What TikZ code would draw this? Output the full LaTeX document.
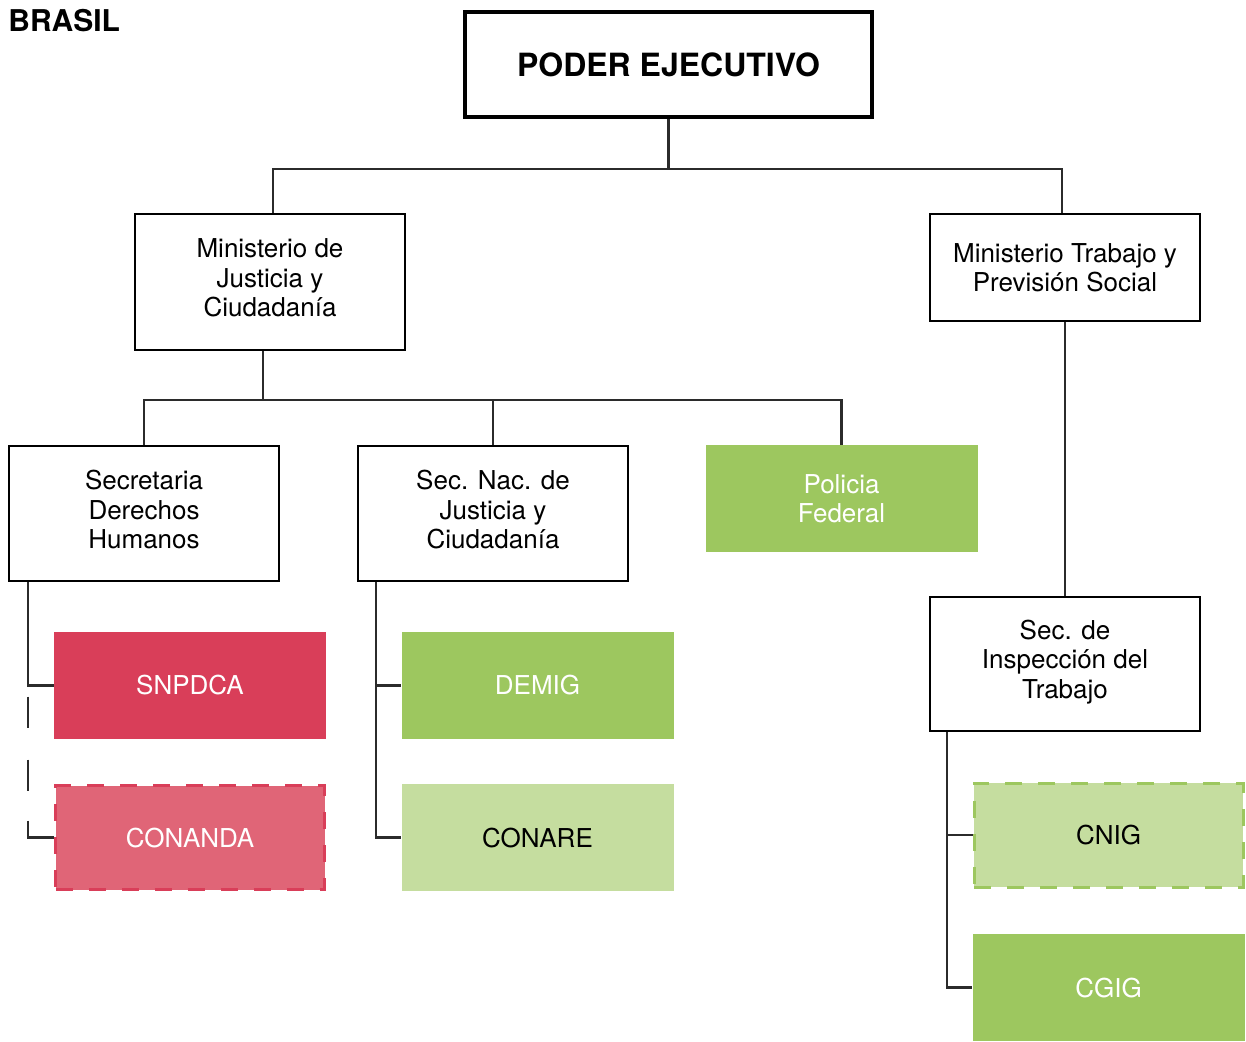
\documentclass[tikz,border=0pt]{standalone}
\usepackage{fontspec}
\setmainfont{TeX Gyre Heros}
\usepackage{tikz}

\definecolor{verde}{HTML}{9DC75F}
\definecolor{verdeclaro}{HTML}{C5DD9F}
\definecolor{rojo}{HTML}{D93E59}
\definecolor{rojoclaro}{HTML}{E06577}
\definecolor{linea}{HTML}{2B2B2B}

\begin{document}
\begin{tikzpicture}[x=0.5pt, y=-0.5pt]
  \tikzset{every node/.style={align=center, font=\fontsize{13}{14.75}\selectfont, inner sep=0pt},
           org/.style={draw=black, line width=1pt, minimum width=135pt},
           tres/.style={text depth=4pt},
           orgfill/.style={fill=#1, minimum width=136pt, minimum height=53.5pt},
           orgdash/.style={orgfill=#1, draw=#1, line width=1.5pt, dash pattern=on 8.5pt off 8pt, minimum width=134.5pt, minimum height=52pt},
           conn/.style={draw=linea, line width=1.2pt}}
  \useasboundingbox (0,0) rectangle (1246,1041);
  \node[anchor=base west, font=\bfseries\fontsize{15}{18}\selectfont] (pais) at (8,31) {BRASIL};
  \node[draw=black, line width=2pt, minimum width=203.5pt, minimum height=52.5pt,
        font=\bfseries\fontsize{16}{18}\selectfont] (pe) at (668.5,64.5) {PODER EJECUTIVO};
  \node[org, tres, minimum height=68pt] (mjc) at (270,282) {Ministerio de\\Justicia y\\Ciudadanía};
  \node[org, minimum height=53.5pt] (mtps) at (1065,267.5) {Ministerio Trabajo y\\Previsión Social};
  \node[org, tres, minimum height=67.5pt] (sdh) at (144,513.5) {Secretaria\\Derechos\\Humanos};
  \node[org, tres, minimum height=67.5pt] (snjc) at (493,513.5) {Sec. Nac. de\\Justicia y\\Ciudadanía};
  \node[orgfill=verde, text=white] (pf) at (841.5,498.5) {Policia\\Federal};
  \node[org, text depth=5pt, minimum height=67pt] (sit) at (1065,664) {Sec. de\\Inspección del\\Trabajo};
  \node[orgfill=rojo, text=white] (snpdca) at (190,685.5) {SNPDCA};
  \node[orgdash=rojo, fill=rojoclaro, text=white] (conanda) at (190,837.5) {CONANDA};
  \node[orgfill=verde, text=white] (demig) at (537.5,685.5) {DEMIG};
  \node[orgfill=verdeclaro] (conare) at (537.5,837.5) {CONARE};
  \node[orgdash=verde, fill=verdeclaro] (cnig) at (1108.5,835) {CNIG};
  \node[orgfill=verde, text=white] (cgig) at (1108.5,987.5) {CGIG};
  % ramas
  \draw[conn] (pe.south) -- ++(0,50) -| ([xshift=1.5pt]mjc.north);
  \draw[conn] (pe.south) -- ++(0,50) -| ([xshift=-1.5pt]mtps.north);
  \draw[conn] ([xshift=-3.5pt]mjc.south) -- ++(0,49) -| (sdh.north);
  \draw[conn] ([xshift=-3.5pt]mjc.south) -- ++(0,49) -| (snjc.north);
  \draw[conn] ([xshift=-3.5pt]mjc.south) -- ++(0,49) -| (pf.north);
  \draw[conn] (mtps.south) -- (sit.north);
  % dependencias
  \coordinate (b1) at ([xshift=10pt]sdh.south west);
  \coordinate (b2) at ([xshift=9.5pt]snjc.south west);
  \coordinate (b3) at ([xshift=9pt]sit.south west);
  \draw[conn] (b1) |- (snpdca.west);
  \draw[conn, dash pattern=on 15.5pt off 16pt, dash phase=26pt] (b1 |- snpdca.west) -- (b1 |- conanda.west);
  \draw[conn] ([yshift=8.5pt]b1 |- conanda.west) |- (conanda.west);
  \draw[conn] (b2) |- (demig.west);
  \draw[conn] (b2) |- (conare.west);
  \draw[conn] (b3) |- (cnig.west);
  \draw[conn] (b3) |- (cgig.west);
\end{tikzpicture}
\end{document}
